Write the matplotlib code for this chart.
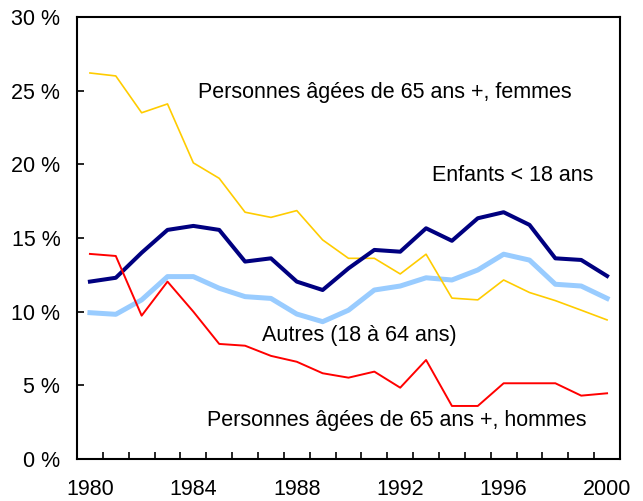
import matplotlib
matplotlib.use("Agg")
import matplotlib.pyplot as plt
from matplotlib.ticker import FixedLocator, FuncFormatter

plt.rcParams['font.family'] = ['Liberation Sans', 'DejaVu Sans']

years = list(range(1980, 2001))
femmes = [26.2, 26.0, 23.5, 24.1, 20.1, 19.05, 16.75, 16.4, 16.86, 14.87, 13.62,
          13.62, 12.56, 13.9, 10.92, 10.8, 12.15, 11.3, 10.75, 10.1, 9.44]
enfants = [12.04, 12.3, 14.0, 15.55, 15.82, 15.55, 13.4, 13.62, 12.04, 11.47, 12.94,
           14.19, 14.07, 15.66, 14.81, 16.34, 16.75, 15.89, 13.62, 13.51, 12.42]
autres = [9.93, 9.82, 10.8, 12.38, 12.38, 11.59, 11.02, 10.9, 9.84, 9.32, 10.1,
          11.47, 11.74, 12.3, 12.15, 12.83, 13.9, 13.5, 11.86, 11.74, 10.9]
hommes = [13.92, 13.78, 9.73, 12.04, 10.0, 7.81, 7.69, 7.0, 6.6, 5.82, 5.52,
          5.93, 4.84, 6.72, 3.6, 3.6, 5.14, 5.14, 5.14, 4.3, 4.46]

labels = ["Personnes âgées de 65 ans +, femmes", "Enfants < 18 ans",
          "Autres (18 à 64 ans)", "Personnes âgées de 65 ans +, hommes"]
yticks = [0, 5, 10, 15, 20, 25, 30]
xticks = [1980, 1984, 1988, 1992, 1996, 2000]

FS = 15.5

fig = plt.figure(figsize=(6.43, 5.01), dpi=100)
ax = fig.add_axes([77/643, 42/501, 543/643, 442/501])

ax.plot(years, femmes, color='#FFCC00', lw=1.2, zorder=3)
ax.plot(years, autres, color='#99CCFF', lw=3.6, zorder=2)
ax.plot(years, enfants, color='#000080', lw=2.9, zorder=4)
ax.plot(years, hommes, color='#FF0000', lw=1.4, zorder=5)

ax.set_xlim(1979.5, 2000.5)
ax.set_ylim(0, 30)

for s in ax.spines.values():
    s.set_linewidth(1.5)
    s.set_color('black')

ax.set_yticks(yticks)
ax.yaxis.set_major_formatter(FuncFormatter(lambda v, p: f"{int(v)} %"))
ax.tick_params(axis='y', direction='in', length=5, width=1.2, pad=12, labelsize=FS)

ax.set_xticks(xticks)
ax.set_xticklabels([str(x) for x in xticks])
ax.xaxis.set_minor_locator(FixedLocator([y + 0.5 for y in range(1980, 2000)]))
ax.tick_params(axis='x', which='major', length=0, pad=14.5, labelsize=FS)
ax.tick_params(axis='x', which='minor', direction='in', length=5, width=1.2)

tkw = dict(transform=ax.transAxes, fontsize=FS, va='center', ha='left', color='black')
ax.text(0.2228, 0.830, labels[0], **tkw)
ax.text(0.6538, 0.6425, labels[1], **tkw)
ax.text(0.3407, 0.2783, labels[2], **tkw)
ax.text(0.2394, 0.0882, labels[3], **tkw)

fig.savefig("out.png", dpi=100)
